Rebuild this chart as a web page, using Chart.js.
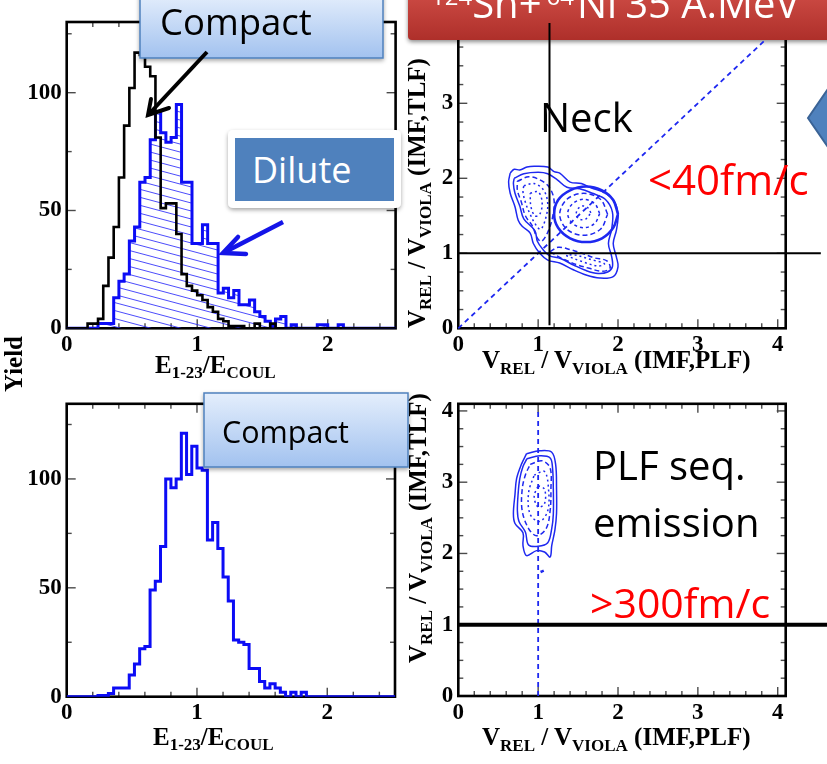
<!DOCTYPE html>
<html>
<head>
<meta charset="utf-8">
<script src="https://cdn.jsdelivr.net/npm/chart.js@4.4.1/dist/chart.umd.min.js"></script>
<style>
  html, body { margin: 0; padding: 0; background: #fff; overflow: hidden; }
  #stage { position: relative; width: 827px; height: 764px; overflow: hidden; background: #fff; }
  #stage canvas { position: absolute; }
  #notes { position: absolute; left: 0; top: 0; pointer-events: none; white-space: pre; }
  .slide { font-family: 'Open Sans', sans-serif; }
  .serif { font-family: 'Liberation Serif', 'Times New Roman', serif; font-weight: bold; }
</style>
</head>
<body>
<div id="stage">
  <canvas id="histTop" width="400" height="385" style="left:0px;top:0px"></canvas>
  <canvas id="histBottom" width="400" height="379" style="left:0px;top:385px"></canvas>
  <canvas id="velTop" width="427" height="385" style="left:400px;top:0px"></canvas>
  <canvas id="velBottom" width="427" height="379" style="left:400px;top:385px"></canvas>

  <svg id="notes" width="827" height="764" xmlns="http://www.w3.org/2000/svg">
    <defs>
      <linearGradient id="calloutFill" x1="0" y1="0" x2="0" y2="1">
        <stop offset="0" stop-color="#e4eefc"/>
        <stop offset="1" stop-color="#a2c2ef"/>
      </linearGradient>
      <filter id="soft" x="-10%" y="-20%" width="125%" height="150%">
        <feDropShadow dx="0" dy="2" stdDeviation="2" flood-color="#000" flood-opacity="0.35"/>
      </filter>
    </defs>

    <!-- reaction title on the red banner -->
    <text class="slide" x="431" y="18" fill="#fff" font-size="40"><tspan font-size="24" dy="-13">124</tspan><tspan dy="13">Sn+</tspan><tspan font-size="24" dy="-13" dx="5">64</tspan><tspan dy="13" dx="3">Ni</tspan><tspan dx="8">35 A.MeV</tspan></text>

    <!-- callouts, upper histogram -->
    <rect x="140" y="-6" width="243" height="64" fill="url(#calloutFill)" stroke="#4f81bd" stroke-width="1.5" filter="url(#soft)"/>
    <text class="slide" x="160" y="35" font-size="36.5" fill="#000">Compact</text>
    <polyline points="207,52 149,114" fill="none" stroke="#000" stroke-width="4"/>
    <polyline points="151,99 148,115 169,108" fill="none" stroke="#000" stroke-width="4" stroke-linecap="round"/>

    <rect x="228" y="130" width="173" height="78" rx="5" fill="#fff" filter="url(#soft)"/>
    <rect x="235" y="138" width="159" height="63" fill="#4f81bd"/>
    <text class="slide" x="252" y="183" font-size="36" fill="#fff">Dilute</text>
    <polyline points="283,222 225,252" fill="none" stroke="#1414e8" stroke-width="4.5"/>
    <polyline points="238,237 223,253 246,254" fill="none" stroke="#1414e8" stroke-width="4.5" stroke-linecap="round"/>

    <!-- callout, lower histogram -->
    <rect x="204" y="393" width="204" height="74" fill="url(#calloutFill)" stroke="#4f81bd" stroke-width="1.5" filter="url(#soft)"/>
    <text class="slide" x="222" y="443" font-size="30.5" fill="#000">Compact</text>

    <!-- labels on the velocity maps -->
    <text class="slide" x="540" y="132" font-size="40" fill="#000">Neck</text>
    <text class="slide" x="648" y="195" font-size="42" fill="#ff0000">&lt;40fm/c</text>
    <text class="slide" x="593" y="480" font-size="40" fill="#000">PLF seq.</text>
    <text class="slide" x="593" y="537" font-size="40" fill="#000">emission</text>
    <text class="slide" x="590" y="618" font-size="41" fill="#ff0000">&gt;300fm/c</text>

    <polygon points="808,118 830,86 830,150" fill="#4f81bd" stroke="#3a6396" stroke-width="2"/>

    <!-- axis titles -->
    <text class="serif" x="155" y="373" font-size="25">E<tspan font-size="17" dy="5">1-23</tspan><tspan dy="-5">/E</tspan><tspan font-size="17" dy="5">COUL</tspan></text>
    <text class="serif" x="153" y="745" font-size="25">E<tspan font-size="17" dy="5">1-23</tspan><tspan dy="-5">/E</tspan><tspan font-size="17" dy="5">COUL</tspan></text>
    <text class="serif" x="482" y="368" font-size="25">V<tspan font-size="17" dy="6">REL</tspan><tspan dy="-6"> / V</tspan><tspan font-size="17" dy="6">VIOLA</tspan><tspan dy="-6"> (IMF,PLF)</tspan></text>
    <text class="serif" x="482" y="745" font-size="25">V<tspan font-size="17" dy="6">REL</tspan><tspan dy="-6"> / V</tspan><tspan font-size="17" dy="6">VIOLA</tspan><tspan dy="-6"> (IMF,PLF)</tspan></text>
    <text class="serif" transform="translate(425,328) rotate(-90)" font-size="25">V<tspan font-size="17" dy="6">REL</tspan><tspan dy="-6"> / V</tspan><tspan font-size="17" dy="6">VIOLA</tspan><tspan dy="-6"> (IMF,TLF)</tspan></text>
    <text class="serif" transform="translate(426,663) rotate(-90)" font-size="25">V<tspan font-size="17" dy="6">REL</tspan><tspan dy="-6"> / V</tspan><tspan font-size="17" dy="6">VIOLA</tspan><tspan dy="-6"> (IMF,TLF)</tspan></text>
    <text class="serif" transform="translate(22,392) rotate(-90)" font-size="25">Yield</text>
  </svg>
</div>

<script>
// ---- histogram data: yield per bin of E(1-23)/E(Coul), bins of width 0.04 from 0 ----
const binWidth = 0.04;

const compactYieldTop = [
  0, 0, 0, 0, 2, 2, 4, 18, 30, 43,
  64, 86, 102, 117, 116, 111, 107, 81, 51, 53,
  53, 40, 23, 18, 16, 14, 12, 9, 7, 4,
  3, 1, 1, 1, 0, 0, 2, 0, 0, 2,
  0, 0, 0, 0, 0, 0, 0, 0, 0, 0,
  0, 0, 0, 0, 0, 0, 0, 0, 0, 0,
  0, 0, 0
];

const diluteYieldTop = [
  0, 0, 0, 0, 0, 0, 2, 2, 2, 13,
  20, 23, 37, 43, 62, 64, 80, 92, 83, 79,
  81, 95, 62, 62, 36, 36, 44, 36, 36, 15,
  17, 13, 16, 10, 10, 12, 7, 5, 3, 1,
  4, 5, 0, 1.5, 0, 0, 0, 0, 1.5, 1.5,
  0, 0, 1.5, 0, 0, 0, 0, 0, 0, 0,
  0, 0, 0
];

const compactYieldBottom = [
  0, 0, 0, 0, 0, 0, 0.5, 0.5, 1.5, 4,
  4, 4, 10, 15, 22, 23, 49, 53, 69, 100,
  96, 100, 121, 102, 115, 105, 104, 72, 80, 68,
  55, 44, 26, 25, 24, 13, 13, 7, 4, 6,
  4, 2, 0, 2, 0, 2, 0, 0, 0, 0,
  0, 0, 0, 0, 0, 0, 0, 0, 0, 0,
  0, 0, 0
];

// ---- axis ticks ----
const histXTicks = [0, 1, 2];
const histXMinor = [0.2, 0.4, 0.6, 0.8, 1.2, 1.4, 1.6, 1.8, 2.2, 2.4];
const histYTicks = [0, 50, 100];
const histYMinor = [25, 75, 125];
const velXTicks = [0, 1, 2, 3, 4];
const velXMinor = [0.2, 0.4, 0.6, 0.8, 1.2, 1.4, 1.6, 1.8, 2.2, 2.4, 2.6, 2.8, 3.2, 3.4, 3.6, 3.8];
const velYTicksTop = [0, 1, 2, 3];
const velYTicksBottom = [0, 1, 2, 3, 4];
const velYMinor = [0.25, 0.5, 0.75, 1.25, 1.5, 1.75, 2.25, 2.5, 2.75, 3.25, 3.5, 3.75];

// ---- velocity-map contours (x: IMF-PLF, y: IMF-TLF, both in Viola units) ----
const neckOuter = [[0.65,2.07],[0.70,2.12],[0.77,2.11],[0.86,2.15],[0.95,2.16],[1.12,2.15],[1.20,2.09],[1.27,2.07],[1.40,1.95],[1.54,1.93],[1.67,1.87],[1.81,1.82],[1.94,1.71],[2.00,1.53],[1.98,1.31],[1.94,1.13],[1.98,0.95],[2.00,0.82],[1.94,0.69],[1.77,0.67],[1.60,0.71],[1.44,0.78],[1.27,0.87],[1.12,0.91],[1.02,1.00],[0.94,1.13],[0.90,1.27],[0.80,1.36],[0.75,1.44],[0.71,1.62],[0.65,1.80],[0.63,1.95],[0.65,2.07]];
const neckSecond = [[0.70,2.00],[0.82,2.06],[1.00,2.08],[1.12,2.06],[1.24,1.98],[1.36,1.88],[1.52,1.86],[1.68,1.80],[1.84,1.72],[1.93,1.55],[1.92,1.32],[1.88,1.13],[1.92,0.96],[1.93,0.82],[1.87,0.75],[1.75,0.73],[1.60,0.77],[1.45,0.84],[1.28,0.93],[1.14,0.97],[1.06,1.05],[0.99,1.16],[0.96,1.30],[0.82,1.46],[0.77,1.63],[0.71,1.80],[0.69,1.93],[0.70,2.00]];
const neckLeftDashed = [[0.74,1.96],[0.88,2.02],[1.02,1.98],[1.14,1.88],[1.20,1.70],[1.18,1.48],[1.12,1.28],[1.04,1.16],[0.98,1.22],[0.93,1.36],[0.84,1.50],[0.79,1.68],[0.74,1.84],[0.74,1.96]];
const neckLeftDotted = [[0.82,1.90],[0.95,1.93],[1.07,1.84],[1.12,1.66],[1.09,1.45],[1.03,1.32],[0.97,1.38],[0.90,1.52],[0.84,1.68],[0.81,1.82],[0.82,1.90]];
const neckLeftCore = [[0.90,1.80],[1.00,1.82],[1.05,1.68],[1.02,1.52],[0.96,1.50],[0.91,1.62],[0.90,1.80]];
const neckRing = [[2.00,1.52],[1.94,1.71],[1.80,1.84],[1.60,1.89],[1.40,1.84],[1.25,1.71],[1.20,1.52],[1.25,1.34],[1.40,1.20],[1.60,1.15],[1.80,1.20],[1.94,1.34],[2.00,1.52]];
const neckRingDashed = [[1.87,1.52],[1.78,1.72],[1.57,1.80],[1.36,1.72],[1.27,1.52],[1.36,1.32],[1.57,1.24],[1.78,1.32],[1.87,1.52]];
const neckRingInner = [[1.77,1.53],[1.71,1.66],[1.57,1.72],[1.43,1.66],[1.37,1.53],[1.43,1.40],[1.57,1.34],[1.71,1.40],[1.77,1.53]];
const neckRingCore = [[1.66,1.54],[1.62,1.61],[1.55,1.63],[1.49,1.58],[1.48,1.50],[1.53,1.45],[1.60,1.46],[1.66,1.54]];
const neckTailDashed = [[1.15,1.02],[1.30,0.93],[1.48,0.85],[1.64,0.80],[1.80,0.76],[1.90,0.80],[1.86,0.90],[1.70,0.94],[1.55,1.00],[1.40,1.05],[1.25,1.08],[1.15,1.02]];
const neckTailDotted = [[1.35,0.97],[1.55,0.89],[1.75,0.83],[1.83,0.86],[1.65,0.92],[1.45,0.98],[1.35,0.97]];

const seqOuter = [[0.855,3.40],[1.02,3.44],[1.17,3.42],[1.22,3.24],[1.23,2.92],[1.23,2.56],[1.21,2.33],[1.17,2.11],[1.15,1.95],[1.08,2.02],[0.98,2.04],[0.855,1.97],[0.81,2.11],[0.81,2.29],[0.71,2.42],[0.69,2.56],[0.71,2.83],[0.73,3.05],[0.79,3.25],[0.855,3.40]];
const seqSecond = [[0.86,3.33],[1.02,3.37],[1.15,3.34],[1.18,3.20],[1.19,2.90],[1.19,2.55],[1.17,2.35],[1.12,2.15],[1.00,2.10],[0.88,2.12],[0.84,2.30],[0.76,2.45],[0.74,2.60],[0.75,2.85],[0.77,3.05],[0.81,3.22],[0.86,3.33]];
const seqDashed = [[0.90,3.25],[1.05,3.30],[1.15,3.20],[1.16,2.90],[1.15,2.60],[1.10,2.35],[0.98,2.25],[0.88,2.35],[0.80,2.60],[0.80,2.90],[0.84,3.10],[0.90,3.25]];
const seqDotted = [[0.95,3.10],[1.08,3.15],[1.13,2.90],[1.12,2.60],[1.02,2.45],[0.90,2.55],[0.88,2.85],[0.95,3.10]];
const seqCore = [[1.00,2.95],[1.08,2.90],[1.08,2.70],[1.00,2.65],[0.95,2.80],[1.00,2.95]];
const seqSpeck = [[1.03,1.74],[1.07,1.76]];

// ---- reference lines ----
const diagonalLine = [[0, 0], [3.83, 3.83]];
const neckVertical = [[1.142, 0.04], [1.142, 4.07]];
const neckHorizontal = [[0, 1], [4.54, 1]];
const seqVertical = [[1, 0], [1, 4]];
const seqHorizontal = [[0, 1], [4.62, 1]];

// ---- helpers ----
const histPoints = counts => {
  const pts = counts.map((c, i) => ({ x: +(i * binWidth).toFixed(2), y: c }));
  pts.push({ x: +(counts.length * binWidth).toFixed(2), y: 0 });
  return pts;
};
const toPoints = list => list.map(([x, y]) => ({ x, y }));

const HIST_BLUE = 'rgb(12,12,245)';
const MAP_BLUE = 'rgb(30,40,240)';

function hatchPattern() {
  const c = document.createElement('canvas');
  c.width = 30; c.height = 8;
  const g = c.getContext('2d');
  g.strokeStyle = 'rgba(45,45,250,0.85)';
  g.lineWidth = 1;
  for (const dy of [-8, 0, 8]) {
    g.beginPath(); g.moveTo(0, dy); g.lineTo(30, dy + 8); g.stroke();
  }
  return g.createPattern(c, 'repeat');
}

const framePlugin = {
  id: 'frame',
  beforeDatasetsDraw(chart, args, o) {
    const { ctx, chartArea: a } = chart;
    const xs = chart.scales.x, ys = chart.scales.y;
    const seg = (x1, y1, x2, y2) => { ctx.beginPath(); ctx.moveTo(x1, y1); ctx.lineTo(x2, y2); ctx.stroke(); };
    ctx.save();
    ctx.strokeStyle = '#4a4a4a';
    ctx.lineWidth = 1.4;
    const xMarks = (vals, len) => vals.forEach(v => { const p = xs.getPixelForValue(v); seg(p, a.bottom, p, a.bottom - len); seg(p, a.top, p, a.top + len); });
    const yMarks = (vals, len) => vals.forEach(v => { const p = ys.getPixelForValue(v); seg(a.left, p, a.left + len, p); seg(a.right, p, a.right - len, p); });
    xMarks(o.xMajor, 9); xMarks(o.xMinor, 5);
    yMarks(o.yMajor, 9); yMarks(o.yMinor, 5);
    ctx.strokeStyle = '#000';
    ctx.lineWidth = 2.6;
    ctx.strokeRect(a.left, a.top, a.right - a.left, a.bottom - a.top);
    ctx.restore();
  }
};

// red title banner over the upper velocity map (drawn under the reference lines)
const bannerPlugin = {
  id: 'banner',
  beforeDatasetsDraw(chart) {
    const ctx = chart.ctx;
    ctx.save();
    ctx.shadowColor = 'rgba(0,0,0,0.45)';
    ctx.shadowBlur = 4;
    ctx.shadowOffsetY = 2;
    const g = ctx.createLinearGradient(0, -10, 0, 40);
    g.addColorStop(0, '#cf4d46');
    g.addColorStop(1, '#ae2f2a');
    ctx.fillStyle = g;
    ctx.beginPath();
    ctx.roundRect(8, -12, 440, 52, 4);
    ctx.fill();
    ctx.restore();
  }
};

const tickFont = { family: "'Liberation Serif', 'Times New Roman', serif", weight: 'bold', size: 23 };

function scales(xMax, yMax, xTicks, yTicks, yAxisWidth) {
  return {
    x: {
      type: 'linear', min: 0, max: xMax,
      grid: { display: false, drawTicks: false }, border: { display: false },
      ticks: { font: tickFont, color: '#000', padding: 3, maxRotation: 0, autoSkip: false, callback: v => String(v) },
      afterBuildTicks: s => { s.ticks = xTicks.map(v => ({ value: v })); },
      afterFit: s => { s.height = 40; }
    },
    y: {
      type: 'linear', min: 0, max: yMax,
      grid: { display: false, drawTicks: false }, border: { display: false },
      ticks: { font: tickFont, color: '#000', padding: 5, autoSkip: false, callback: v => String(v) },
      afterBuildTicks: s => { s.ticks = yTicks.map(v => ({ value: v })); },
      afterFit: s => { s.width = yAxisWidth; }
    }
  };
}

function baseOptions(padding, sc, frame) {
  return {
    responsive: false, animation: false, devicePixelRatio: 1, events: [],
    layout: { padding },
    scales: sc,
    plugins: { legend: { display: false }, tooltip: { enabled: false }, frame },
    elements: { point: { radius: 0 } }
  };
}

const histFrame = { xMajor: histXTicks, xMinor: histXMinor, yMajor: histYTicks, yMinor: histYMinor };
const velFrame = { xMajor: velXTicks, xMinor: velXMinor, yMajor: velYTicksBottom, yMinor: velYMinor };

// ---- upper-left: compact (black) vs dilute (blue, hatched) ----
new Chart(document.getElementById('histTop'), {
  type: 'scatter',
  data: {
    datasets: [
      { label: 'Compact', data: histPoints(compactYieldTop), showLine: true, stepped: true,
        borderColor: '#000', borderWidth: 2.6, fill: false },
      { label: 'Dilute', data: histPoints(diluteYieldTop), showLine: true, stepped: true,
        borderColor: HIST_BLUE, borderWidth: 3, fill: 'origin', backgroundColor: hatchPattern() }
    ]
  },
  options: baseOptions({ left: 0, right: 4.4, top: 22, bottom: 16.7 },
    scales(2.52, 130, histXTicks, histYTicks, 66.7), histFrame),
  plugins: [framePlugin]
});

// ---- lower-left: compact only ----
new Chart(document.getElementById('histBottom'), {
  type: 'scatter',
  data: {
    datasets: [
      { label: 'Compact', data: histPoints(compactYieldBottom), showLine: true, stepped: true,
        borderColor: HIST_BLUE, borderWidth: 3, fill: false }
    ]
  },
  options: baseOptions({ left: 0, right: 5, top: 6.7, bottom: 27.3 },
    scales(2.52, 134.5, histXTicks, histYTicks, 66.7), histFrame),
  plugins: [framePlugin]
});

function contour(list, width, dash) {
  return { data: toPoints(list), showLine: true, borderColor: MAP_BLUE, borderWidth: width,
           borderDash: dash || [], tension: 0.35, fill: false };
}
function refLine(list, color, width, dash) {
  return { data: toPoints(list), showLine: true, borderColor: color, borderWidth: width,
           borderDash: dash || [], fill: false, clip: false, tension: 0 };
}

// ---- upper-right: neck emission velocity map ----
new Chart(document.getElementById('velTop'), {
  type: 'scatter',
  data: {
    datasets: [
      refLine(neckVertical, '#000', 2),
      refLine(neckHorizontal, '#000', 2),
      refLine(diagonalLine, MAP_BLUE, 1.8, [5, 4]),
      contour(neckRing, 2.6),
      contour(neckOuter, 1.5),
      contour(neckSecond, 1.5),
      contour(neckLeftDashed, 1.5, [5, 3]),
      contour(neckLeftDotted, 1.5, [2, 3]),
      contour(neckLeftCore, 1.5, [2, 3]),
      contour(neckRingDashed, 1.5, [5, 3]),
      contour(neckRingInner, 1.5, [3, 3]),
      contour(neckRingCore, 1.5, [2, 3]),
      contour(neckTailDashed, 1.5, [5, 3]),
      contour(neckTailDotted, 1.5, [2, 3])
    ]
  },
  options: baseOptions({ left: 0, right: 41.3, top: 20.8, bottom: 16.7 },
    scales(4.1, 4.1, velXTicks, velYTicksTop, 58.3), velFrame),
  plugins: [framePlugin, bannerPlugin]
});

// ---- lower-right: sequential PLF emission velocity map ----
new Chart(document.getElementById('velBottom'), {
  type: 'scatter',
  data: {
    datasets: [
      refLine(seqHorizontal, '#000', 4),
      refLine(seqVertical, MAP_BLUE, 1.8, [5, 4]),
      contour(seqOuter, 1.5),
      contour(seqSecond, 1.5),
      contour(seqDashed, 1.5, [5, 3]),
      contour(seqDotted, 1.5, [2, 3]),
      contour(seqCore, 1.5, [2, 3]),
      contour(seqSpeck, 2.5)
    ]
  },
  options: baseOptions({ left: 0, right: 41.3, top: 6.7, bottom: 28 },
    scales(4.1, 4.1, velXTicks, velYTicksBottom, 58.3), velFrame),
  plugins: [framePlugin]
});
</script>
</body>
</html>
